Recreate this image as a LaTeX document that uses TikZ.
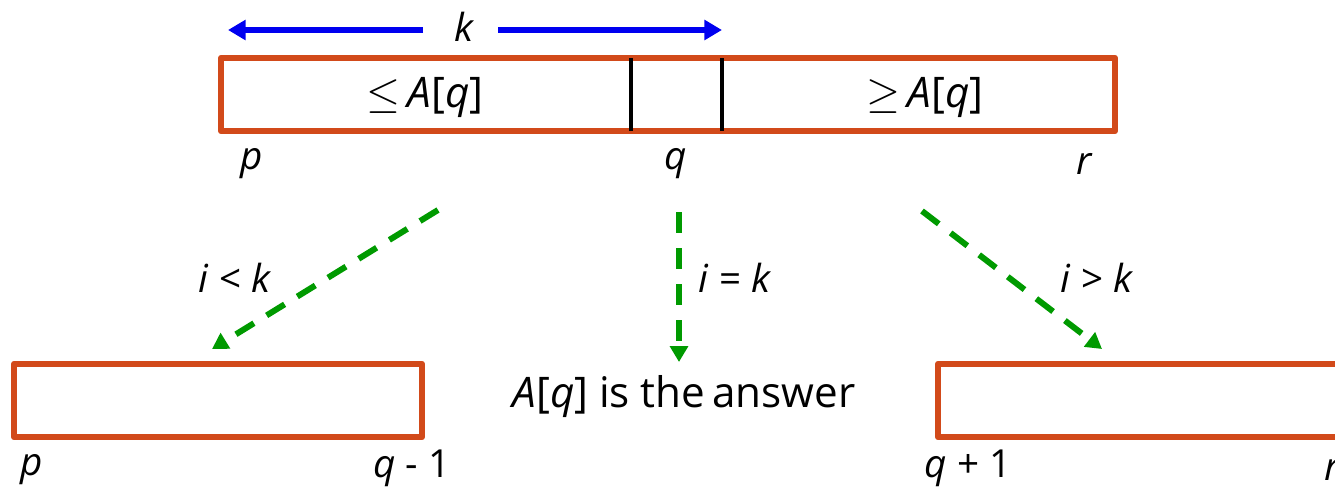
\documentclass[tikz,border=0pt]{standalone}
\usepackage{fontspec}
\setmainfont{Open Sans}
\usetikzlibrary{arrows.meta}
\definecolor{boxorange}{HTML}{D24A1A}
\definecolor{arrgreen}{HTML}{009A00}
\definecolor{arrblue}{HTML}{0000F0}
\tikzset{
  arraybox/.style={draw=boxorange, line width=3.4pt, line join=round, inner sep=0pt, minimum height=1.47cm},
  divider/.style={draw=black, line width=2.7pt},
  lbl/.style={font=\fontsize{22}{24}\selectfont, inner sep=0pt},
  txt/.style={font=\fontsize{24}{26}\selectfont, inner sep=0pt},
  greenarrow/.style={draw=arrgreen, line width=3.4pt, dash pattern=on 12pt off 8.5pt, -{Triangle[length=9pt,width=10pt]}},
  bluearrow/.style={draw=arrblue, line width=3.6pt, -{Triangle[length=10pt,width=11pt]}}
}
\begin{document}
\begin{tikzpicture}[x=0.02cm,y=-0.02cm]
\useasboundingbox (0,0) rectangle (1335,487);
\clip (0,0) rectangle (1335,487);
% top array
\node[arraybox, minimum width=17.88cm] (top) at (668,94.5) {};
\coordinate (d1t) at (631,58); \coordinate (d1b) at (631,131);
\coordinate (d2t) at (722,58); \coordinate (d2b) at (722,131);
\draw[divider] (d1t) -- (d1b);
\draw[divider] (d2t) -- (d2b);
\node[txt] (le) at (425,97) {$\leq$\,\textit{A}[\textit{q}]};
\node[txt] (ge) at (925,97) {$\geq$\,\textit{A}[\textit{q}]};
% k arrow
\node[lbl] (k) at (465,27) {\textit{k}};
\coordinate (kl) at (228,30); \coordinate (kla) at (423,30);
\coordinate (kr) at (722,30); \coordinate (kra) at (498,30);
\draw[bluearrow] (kla) -- (kl);
\draw[bluearrow] (kra) -- (kr);
% top labels
\node[lbl] (p1) at (252,164) {\textit{p}};
\node[lbl] (q1) at (676,164) {\textit{q}};
\node[lbl] (r1) at (1085,164) {\textit{r}};
% bottom boxes
\node[arraybox, minimum width=8.16cm] (left) at (218,400.5) {};
\node[arraybox, minimum width=8.2cm] (right) at (1143,400.5) {};
\node[txt] (ans) at (684,397) {\textit{A}[\textit{q}] is the\,answer};
% bottom labels
\node[lbl] (p2) at (32,470) {\textit{p}};
\node[lbl] (q2) at (412,468) {\textit{q} - 1};
\node[lbl] (q3) at (968,468) {\textit{q} + 1};
\node[lbl] (r2) at (1333,470) {\textit{r}};
% green arrows
\coordinate (ls) at (438,210); \coordinate (le2) at (212,349);
\coordinate (ms) at (679,212); \coordinate (me) at (679,362);
\coordinate (rs) at (922,211); \coordinate (re) at (1102,349);
\draw[greenarrow] (ls) -- (le2);
\draw[greenarrow] (ms) -- (me);
\draw[greenarrow] (rs) -- (re);
\node[lbl] (c1) at (235,278) {\textit{i} < \textit{k}};
\node[lbl] (c2) at (735,278) {\textit{i} = \textit{k}};
\node[lbl] (c3) at (1097,278) {\textit{i} > \textit{k}};
\end{tikzpicture}
\end{document}
